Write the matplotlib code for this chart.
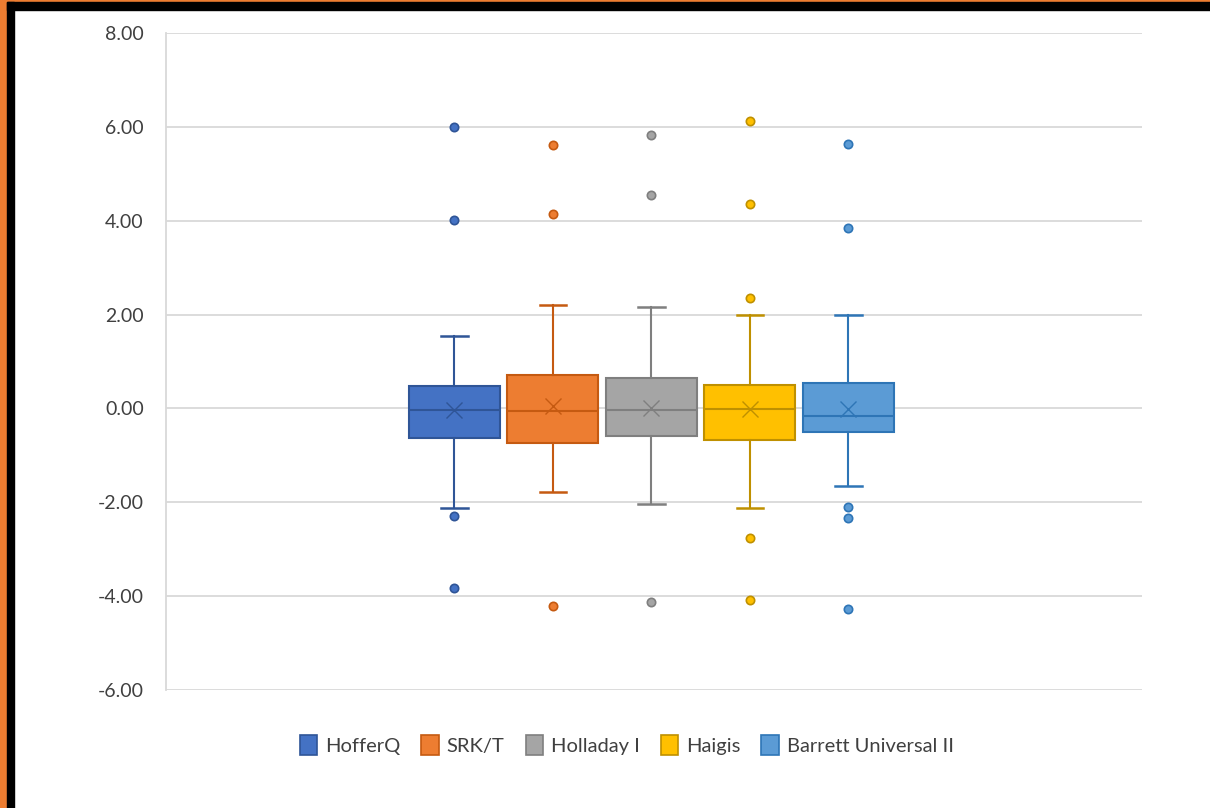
import matplotlib.pyplot as plt
from matplotlib.patches import Rectangle

# Box plot stats
labels = ['HofferQ', 'SRK/T', 'Holladay I', 'Haigis', 'Barrett Universal II']
q1 = [-0.62, -0.74, -0.59, -0.67, -0.50]
q3 = [0.47, 0.72, 0.64, 0.50, 0.54]
medians = [-0.04, -0.06, -0.04, -0.01, -0.17]
means = [-0.04, 0.06, 0.00, -0.02, -0.01]
whislo = [-2.12, -1.77, -2.03, -2.13, -1.65]
whishi = [1.55, 2.21, 2.16, 1.99, 2.00]
outliers = [
    [6.00, 4.02, -2.30, -3.83],
    [5.62, 4.14, -4.21],
    [5.83, 4.55, -4.13],
    [6.13, 4.36, 2.36, -2.77, -4.09],
    [5.63, 3.84, -2.09, -2.33, -4.28],
]

fill_colors = ['#4472C4', '#ED7D31', '#A5A5A5', '#FFC000', '#5B9BD5']
edge_colors = ['#2F5597', '#C55A11', '#7F7F7F', '#BF9000', '#2E75B6']

plt.rcParams['font.family'] = ['Lato', 'DejaVu Sans']

fig = plt.figure(figsize=(12.1, 8.08), dpi=100)
ax = fig.add_axes([0.1372, 0.146, 0.8066, 0.8132])

positions = [1, 2, 3, 4, 5]
for i in range(5):
    stats = [{
        'q1': q1[i], 'q3': q3[i], 'med': medians[i], 'mean': means[i],
        'whislo': whislo[i], 'whishi': whishi[i], 'fliers': outliers[i],
    }]
    ec = edge_colors[i]
    ax.bxp(stats, positions=[positions[i]], widths=0.924, capwidths=0.27,
           patch_artist=True, showmeans=True, manage_ticks=False,
           boxprops=dict(facecolor=fill_colors[i], edgecolor=ec, linewidth=1.5),
           whiskerprops=dict(color=ec, linewidth=1.5),
           capprops=dict(color=ec, linewidth=1.8),
           medianprops=dict(color=ec, linewidth=1.5),
           meanprops=dict(marker='x', markeredgecolor=ec, markersize=12,
                          markeredgewidth=1.0),
           flierprops=dict(marker='o', markerfacecolor=fill_colors[i],
                           markeredgecolor=ec, markersize=6,
                           markeredgewidth=1.2),
           zorder=3)

ax.set_xlim(3 - 4.928, 3 + 4.98)
ax.set_ylim(-6, 8)
ax.set_yticks([-6, -4, -2, 0, 2, 4, 6, 8])
ax.set_yticklabels(['%.2f' % t for t in [-6, -4, -2, 0, 2, 4, 6, 8]])
ax.set_xticks([])
ax.yaxis.grid(True, color='#D9D9D9', linewidth=1.3, zorder=0)
ax.set_axisbelow(True)
for s in ['top', 'right', 'bottom']:
    ax.spines[s].set_visible(False)
ax.spines['left'].set_color('#D9D9D9')
ax.spines['left'].set_linewidth(1.3)
ax.tick_params(axis='y', length=0, pad=16, labelsize=14, labelcolor='#404040')

handles = [Rectangle((0, 0), 1, 1, facecolor=fill_colors[i],
                     edgecolor=edge_colors[i], linewidth=1.2) for i in range(5)]
fig.legend(handles, labels, loc='center', bbox_to_anchor=(0.518, 0.078),
           ncol=5, frameon=False, fontsize=14.5, handlelength=0.85,
           handleheight=1.1, handletextpad=0.4, columnspacing=1.05,
           labelcolor='#404040')

# frame border (orange + black) on the left and top
W, H = 1210, 808
fig.patches.extend([
    Rectangle((0, 0), 7 / W, 1, transform=fig.transFigure, color='#ED7D31', zorder=10),
    Rectangle((0, 1 - 2 / H), 1, 2 / H, transform=fig.transFigure, color='#ED7D31', zorder=10),
    Rectangle((7 / W, 0), 7 / W, 1 - 2 / H, transform=fig.transFigure, color='black', zorder=10),
    Rectangle((7 / W, 1 - 10 / H), 1, 8 / H, transform=fig.transFigure, color='black', zorder=10),
])

fig.savefig('out.png', dpi=100)
